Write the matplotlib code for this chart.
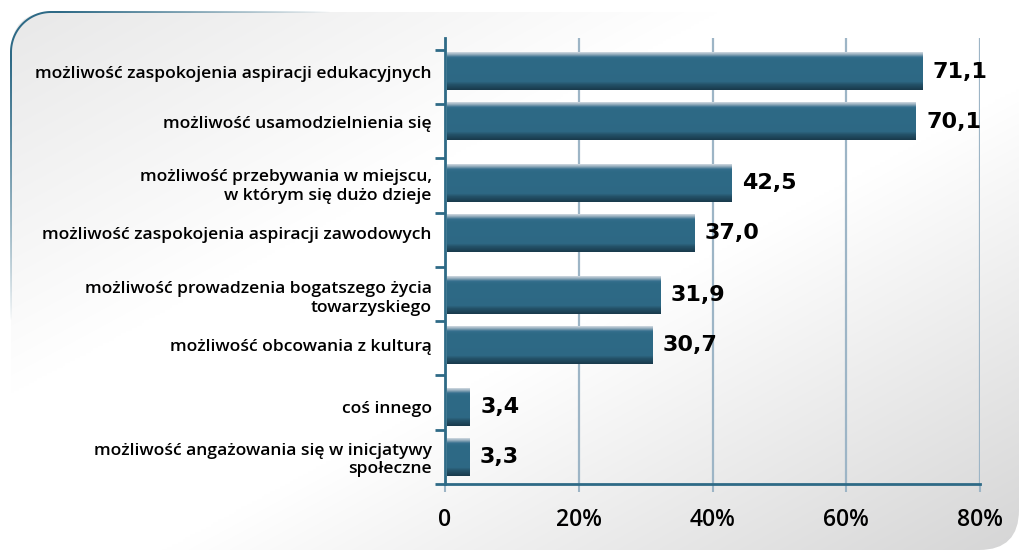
import numpy as np
import matplotlib

matplotlib.use("Agg")
import matplotlib.pyplot as plt
from matplotlib.patches import FancyBboxPatch, Polygon

categories = [
    "możliwość zaspokojenia aspiracji edukacyjnych",
    "możliwość usamodzielnienia się",
    "możliwość przebywania w miejscu,\nw którym się dużo dzieje",
    "możliwość zaspokojenia aspiracji zawodowych",
    "możliwość prowadzenia bogatszego życia\ntowarzyskiego",
    "możliwość obcowania z kulturą",
    "coś innego",
    "możliwość angażowania się w inicjatywy\nspołeczne",
]
values = [71.1, 70.1, 42.5, 37.0, 31.9, 30.7, 3.4, 3.3]
value_labels = ["71,1", "70,1", "42,5", "37,0", "31,9", "30,7", "3,4", "3,3"]
x_ticks = [0, 20, 40, 60, 80]
x_tick_labels = ["0", "20%", "40%", "60%", "80%"]

TEAL = "#2e6a86"
GRID = "#9db5c6"
W, H = 1022, 553

fig = plt.figure(figsize=(W / 100, H / 100), dpi=100)
fig.patch.set_facecolor("white")

# background panel with diagonal grey gradient
bg = fig.add_axes([0, 0, 1, 1], zorder=-5)
bg.set_xlim(0, W)
bg.set_ylim(H, 0)
bg.axis("off")
xx, yy = np.meshgrid(np.linspace(0, 1, 400), np.linspace(0, 1, 220))
s = (xx + yy) / 2
g = 255 - 24 * np.clip((0.36 - s) / 0.36, 0, 1) - 42 * np.clip((s - 0.58) / 0.42, 0, 1)
g = g / 255
img = np.dstack([g, g, g * 0.995 + 0.005])
panel = FancyBboxPatch((11, 12), 1008, 538, boxstyle="round,pad=0,rounding_size=40",
                       facecolor="none", edgecolor="none", transform=bg.transData)
bg.add_patch(panel)
im = bg.imshow(img, extent=[0, W, H, 0], aspect="auto", interpolation="bilinear")
im.set_clip_path(panel)


# fading teal border at the top-left corner: thin band clipped over an alpha ramp
def corner_outline(off, r):
    t = np.linspace(np.pi, 1.5 * np.pi, 40)
    cx, cy = 11 + 40, 12 + 40
    left = [(11 + off, 330)]
    arc = list(zip(cx + r * np.cos(t), cy + r * np.sin(t)))
    top = [(340, 12 + off)]
    return left + arc + top


outer = corner_outline(-1.0, 41.0)
inner = corner_outline(1.0, 39.0)
band = Polygon(outer + inner[::-1], closed=True, facecolor="none", edgecolor="none",
               transform=bg.transData)
bg.add_patch(band)
px, py = np.meshgrid(np.arange(W), np.arange(H))
fade = np.clip(1 - (py - 60) / 260, 0, 1) ** 0.8 * np.clip(1 - (px - 60) / 270, 0, 1) ** 0.9
ramp = np.zeros((H, W, 4))
ramp[..., 0], ramp[..., 1], ramp[..., 2] = 46 / 255, 106 / 255, 134 / 255
ramp[..., 3] = fade
border = bg.imshow(ramp, extent=[0, W, H, 0], aspect="auto", interpolation="bilinear")
border.set_clip_path(band)
bg.set_xlim(0, W)
bg.set_ylim(H, 0)

# chart axes
ax = fig.add_axes([445 / W, (H - 484) / H, 535 / W, 446 / H])
ax.set_facecolor("none")

first, group_pitch, inner_gap, bar_h = 0.40, 2.06, 0.92, 0.69
bar_y = [first + (i // 2) * group_pitch + (i % 2) * inner_gap for i in range(len(values))]

bars = ax.barh(bar_y, values, height=bar_h, left=0.35, color=TEAL, zorder=3)

# vertical shading of each bar
stops = np.array([0.0, 0.05, 0.13, 0.2, 0.78, 0.86, 1.0])
rgb = np.array([
    [0.80, 0.84, 0.87],
    [0.60, 0.69, 0.75],
    [0.20, 0.43, 0.55],
    [0.18, 0.415, 0.525],
    [0.18, 0.41, 0.52],
    [0.14, 0.32, 0.41],
    [0.10, 0.23, 0.30],
])
rows = np.linspace(0, 1, 60)
grad = np.stack([np.interp(rows, stops, rgb[:, c]) for c in range(3)], axis=1)[:, None, :]
for b in bars:
    x0, y0, w, h = b.get_x(), b.get_y(), b.get_width(), b.get_height()
    ax.imshow(grad, extent=[x0, x0 + w, y0 + h, y0], aspect="auto",
              interpolation="bilinear", zorder=4)

for yv, v, lab in zip(bar_y, values, value_labels):
    ax.annotate(lab, (v, yv), xytext=(9, 0), textcoords="offset points",
                ha="left", va="center", fontsize=16, fontweight="heavy",
                family="DejaVu Sans", color="black", zorder=5)

ax.set_xlim(0, 80)
ax.set_ylim(8, -0.22)
ax.set_aspect("auto")

ax.set_xticks(x_ticks)
ax.set_xticklabels(x_tick_labels, fontsize=16.5, fontweight="semibold", family="Open Sans")
ax.tick_params(axis="x", length=6, width=1.5, color=GRID, pad=11)

ax.set_yticks(np.arange(0, 9))
ax.set_yticklabels([])
ax.tick_params(axis="y", which="major", length=7, width=2, color=TEAL)
ax.set_yticks(bar_y, minor=True)
ax.set_yticklabels(categories, minor=True, fontsize=12.6, fontweight="semibold",
                   family="Open Sans", linespacing=1.2)
ax.tick_params(axis="y", which="minor", length=0, pad=9.5)

ax.grid(axis="x", color=GRID, linewidth=1.6, zorder=1)
ax.set_axisbelow(True)
for side in ("top", "right"):
    ax.spines[side].set_visible(False)
for side in ("left", "bottom"):
    ax.spines[side].set_color(TEAL)
    ax.spines[side].set_linewidth(2)
    ax.spines[side].set_zorder(6)

fig.savefig("out.png", dpi=100)
